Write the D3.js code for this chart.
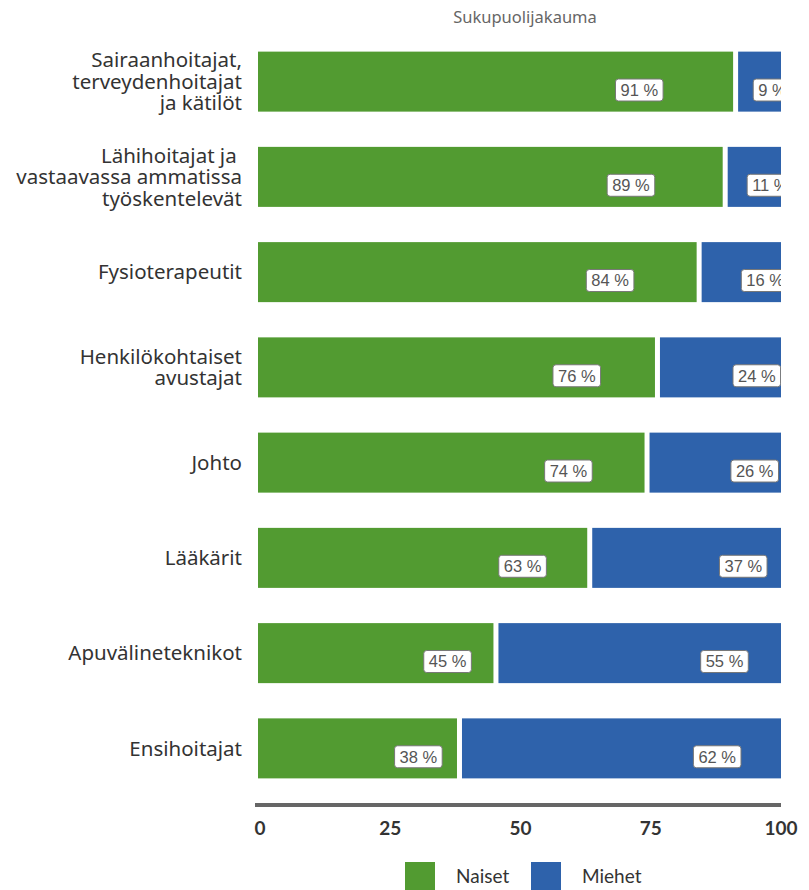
<!DOCTYPE html>
<html>
<head>
<meta charset="utf-8">
<script src="https://cdn.jsdelivr.net/npm/d3@7"></script>
<style>
  body { margin: 0; background: #fff; }
  svg { display: block; }
</style>
</head>
<body>
<div id="chart"></div>
<script>
var categories = [
  ["Sairaanhoitajat,", "terveydenhoitajat", "ja kätilöt"],
  ["Lähihoitajat ja\u00a0", "vastaavassa ammatissa", "työskentelevät"],
  ["Fysioterapeutit"],
  ["Henkilökohtaiset", "avustajat"],
  ["Johto"],
  ["Lääkärit"],
  ["Apuvälineteknikot"],
  ["Ensihoitajat"]
];
var naiset = [91, 89, 84, 76, 74, 63, 45, 38];
var miehet = [9, 11, 16, 24, 26, 37, 55, 62];
var xTicks = [0, 25, 50, 75, 100];
var seriesNames = ["Naiset", "Miehet"];

var width = 809, height = 890;
var green = "#529b31", blue = "#2e62ab";
var font = "Lato, 'Noto Sans', sans-serif";
var labelFont = "'Noto Sans', 'Open Sans', sans-serif";

var svg = d3.select("#chart").append("svg")
    .attr("width", width).attr("height", height);

var x = d3.scaleLinear().domain([0, 100]).range([260, 781]);
var y = d3.scaleBand().domain(d3.range(categories.length))
    .range([34, 796]).paddingInner(0.37).paddingOuter(0.185);

// title
svg.append("text")
    .attr("x", 525).attr("y", 23)
    .attr("text-anchor", "middle")
    .style("font-family", labelFont).style("font-size", "16.5px")
    .attr("fill", "#666")
    .text("Sukupuolijakauma");

svg.append("clipPath").attr("id", "plotclip")
  .append("rect").attr("x", 250).attr("y", 30).attr("width", 531).attr("height", 780);

var plot = svg.append("g").attr("clip-path", "url(#plotclip)");

var rows = categories.map(function(c, i) {
    return { i: i, n: naiset[i], m: miehet[i] };
});

// naiset bars
plot.selectAll(".bar-n").data(rows).enter().append("rect")
    .attr("x", x(0) - 2)
    .attr("y", function(d) { return y(d.i); })
    .attr("width", function(d) { return x(d.n) - x(0) + 1; })
    .attr("height", y.bandwidth())
    .attr("fill", green);

// miehet bars
plot.selectAll(".bar-m").data(rows).enter().append("rect")
    .attr("x", function(d) { return x(d.n) + 4; })
    .attr("y", function(d) { return y(d.i); })
    .attr("width", function(d) { return x(100) - x(d.n) - 4; })
    .attr("height", y.bandwidth())
    .attr("fill", blue);

// value labels
function addLabel(cx, cy, txt) {
    var g = plot.append("g").attr("transform", "translate(" + cx + "," + cy + ")");
    var t = g.append("text")
        .attr("text-anchor", "middle").attr("dy", "0.36em")
        .style("font-family", "'Liberation Sans', Arial, sans-serif")
        .style("font-size", "16.5px")
        .attr("fill", "#555")
        .text(txt);
    var w = t.node().getComputedTextLength() + 10;
    g.insert("rect", "text")
        .attr("x", -w / 2).attr("y", -11)
        .attr("width", w).attr("height", 22)
        .attr("rx", 3)
        .attr("fill", "#fff").attr("stroke", "#777").attr("stroke-width", 1);
}
rows.forEach(function(d) {
    var cy = y(d.i) + y.bandwidth() * 0.64;
    var x0 = x(0), x1 = x(d.n);
    addLabel(x0 + (x1 - x0) * 0.8, cy, d.n + " %");
    var x2 = x(d.n) + 4, x3 = x(100);
    addLabel(x2 + (x3 - x2) * 0.8, cy, d.m + " %");
});

// category labels
categories.forEach(function(lines, i) {
    var cy = y(i) + y.bandwidth() / 2;
    var lh = 21.5;
    var t = svg.append("text")
        .attr("text-anchor", "end")
        .style("font-family", labelFont).style("font-size", "20.5px")
        .attr("fill", "#333");
    lines.forEach(function(l, k) {
        t.append("tspan")
            .attr("x", 242)
            .attr("y", cy + (k - (lines.length - 1) / 2) * lh)
            .attr("dy", "0.35em")
            .text(l);
    });
});

// x axis
var axis = svg.append("g").attr("transform", "translate(0,805)");
axis.append("line")
    .attr("x1", 255).attr("x2", x(100))
    .attr("stroke", "#666").attr("stroke-width", 4);
axis.selectAll(".tick").data(xTicks).enter().append("text")
    .attr("x", function(d) { return x(d); })
    .attr("y", 23).attr("dy", "0.35em")
    .attr("text-anchor", "middle")
    .style("font-family", font).style("font-size", "19px").style("font-weight", "bold")
    .attr("fill", "#333")
    .text(function(d) { return d; });

// legend
var legendX = [405, 531];
var colors = [green, blue];
seriesNames.forEach(function(name, i) {
    svg.append("rect")
        .attr("x", legendX[i]).attr("y", 862)
        .attr("width", 30).attr("height", 30)
        .attr("fill", colors[i]);
    svg.append("text")
        .attr("x", legendX[i] + 51).attr("y", 880)
        .attr("dy", "0.15em")
        .style("font-family", font).style("font-size", "19px")
        .attr("fill", "#333")
        .text(name);
});
</script>
</body>
</html>
